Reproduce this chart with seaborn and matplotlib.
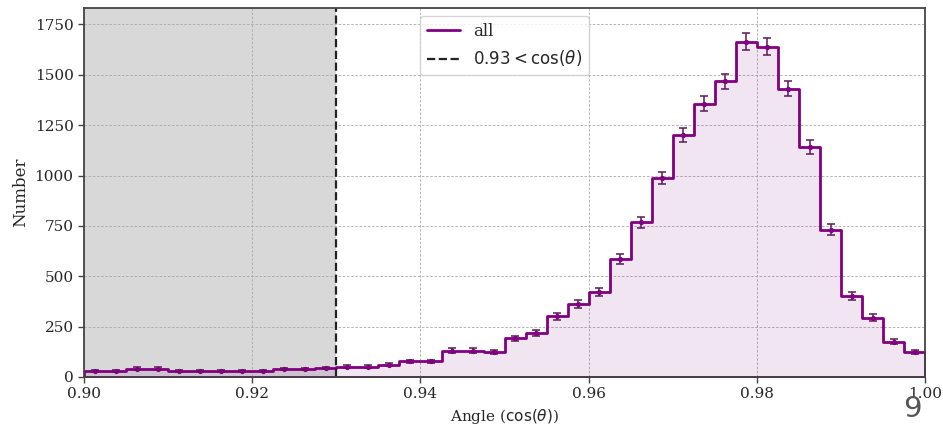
import numpy as np
import pandas as pd
import matplotlib
matplotlib.use("Agg")
import matplotlib.pyplot as plt
import seaborn as sns

# Histogram of cos(theta), 40 bins of width 0.0025 between 0.90 and 1.00
bin_edges = np.linspace(0.90, 1.00, 41)
counts = [
    31, 31, 41, 41, 31, 31, 31, 31, 31, 39,
    39, 44, 52, 52, 61, 77, 77, 131, 130, 123,
    192, 220, 302, 362, 423, 587, 768, 987, 1201, 1356,
    1467, 1665, 1640, 1431, 1143, 730, 403, 294, 176, 123,
]
cut_value = 0.93
x_ticks = [0.90, 0.92, 0.94, 0.96, 0.98, 1.00]
y_ticks = [0, 250, 500, 750, 1000, 1250, 1500, 1750]

centers = 0.5 * (bin_edges[:-1] + bin_edges[1:])
df = pd.DataFrame({"angle": centers, "count": counts})
errors = np.sqrt(df["count"].to_numpy())

sns.set_style("ticks")
plt.rcParams["font.family"] = ["DejaVu Serif"]
plt.rcParams["mathtext.fontset"] = "dejavusans"

fig = plt.figure(figsize=(9.43, 4.28), dpi=100)
ax = fig.add_axes([0.0891, 0.1192, 0.892, 0.8621])

# excluded region below the cut
ax.axvspan(0.90, cut_value, color="grey", alpha=0.3, lw=0, zorder=0)

sns.histplot(data=df, x="angle", weights="count", bins=list(bin_edges),
             element="step", fill=True, color="purple", alpha=0.1,
             linewidth=2, ax=ax, zorder=2)

ax.errorbar(df["angle"], df["count"], yerr=errors, fmt=".", color="purple",
            ecolor="#5a1a5a", markersize=5.5, elinewidth=1.1, capsize=3,
            capthick=1.1, zorder=3)

ax.axvline(cut_value, color="#222222", ls="--", lw=1.6, zorder=4)

ax.set_xlim(0.90, 1.00)
ax.set_ylim(0, 1.1 * max(counts))
ax.set_xticks(x_ticks)
ax.set_xticklabels([f"{t:.2f}" for t in x_ticks])
ax.set_yticks(y_ticks)
ax.tick_params(labelsize=11, length=4, width=1, color="#444444")
ax.grid(True, ls=(0, (3, 2)), lw=0.6, color="#a8a8a8")
ax.set_axisbelow(True)
for s in ax.spines.values():
    s.set_color("#444444")
    s.set_linewidth(1.3)
    s.set_zorder(5)

ax.set_xlabel(r"Angle ($\cos(\theta)$)", fontsize=11)
ax.set_ylabel("Number", fontsize=12)

handles = [plt.Line2D([], [], color="purple", lw=2),
           plt.Line2D([], [], color="#222222", ls="--", lw=1.6)]
ax.legend(handles, ["all", r"$0.93 < \cos(\theta)$"], loc="upper center",
          fontsize=12)

fig.text(0.968, 0.025, "9", fontsize=21, color="#555555", ha="center",
         family=["DejaVu Sans"])

fig.savefig("out.png", dpi=100)
